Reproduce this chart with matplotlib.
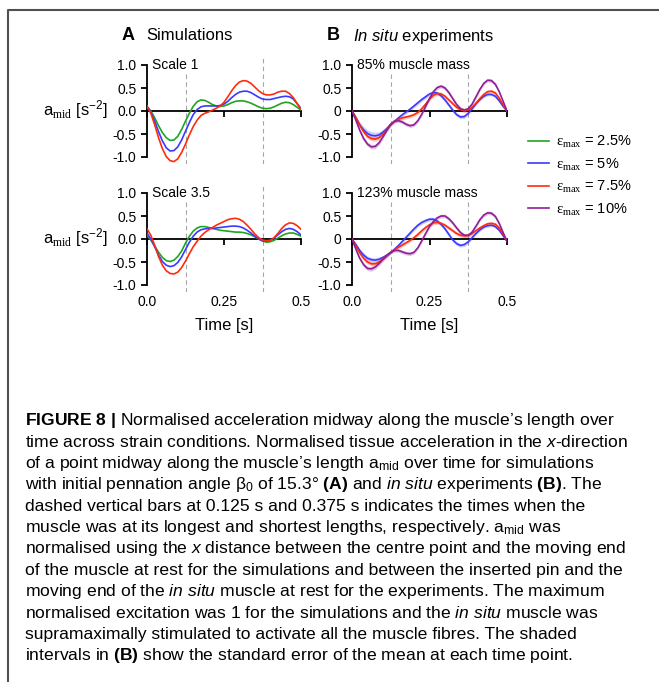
import numpy as np
import matplotlib.pyplot as plt
from matplotlib.lines import Line2D

plt.rcParams['font.family'] = 'Liberation Sans'
plt.rcParams['mathtext.fontset'] = 'custom'
plt.rcParams['mathtext.rm'] = 'Liberation Serif'
plt.rcParams['mathtext.sf'] = 'Liberation Sans'
plt.rcParams['mathtext.it'] = 'Liberation Sans:italic'
plt.rcParams['mathtext.bf'] = 'Liberation Sans:bold'

########## time samples (s) ##########
time = np.arange(41) * 0.0125

########## A: simulations, scale 1 ##########
sim1_e25 = [0.10, 0.00, -0.15, -0.32, -0.47, -0.58, -0.64, -0.63, -0.55, -0.40,
            -0.22, -0.05, 0.10, 0.20, 0.24, 0.23, 0.19, 0.14, 0.11, 0.10,
            0.11, 0.14, 0.18, 0.21, 0.22, 0.22, 0.20, 0.17, 0.13, 0.09,
            0.06, 0.05, 0.06, 0.09, 0.13, 0.17, 0.19, 0.18, 0.14, 0.08, 0.02]
sim1_e5 = [0.10, -0.02, -0.22, -0.45, -0.65, -0.80, -0.87, -0.86, -0.78, -0.63,
           -0.44, -0.25, -0.08, 0.03, 0.09, 0.11, 0.11, 0.11, 0.11, 0.12,
           0.15, 0.21, 0.29, 0.36, 0.41, 0.43, 0.43, 0.40, 0.35, 0.30,
           0.26, 0.25, 0.25, 0.27, 0.29, 0.31, 0.32, 0.31, 0.26, 0.16, 0.05]
sim1_e75 = [0.10, -0.05, -0.30, -0.58, -0.82, -0.99, -1.08, -1.10, -1.04, -0.90,
            -0.72, -0.52, -0.34, -0.20, -0.10, -0.05, -0.02, 0.02, 0.06, 0.11,
            0.19, 0.31, 0.44, 0.55, 0.63, 0.66, 0.65, 0.60, 0.52, 0.44,
            0.38, 0.35, 0.35, 0.37, 0.41, 0.43, 0.43, 0.38, 0.29, 0.16, 0.04]

########## A: simulations, scale 3.5 ##########
sim35_e25 = [0.08, -0.02, -0.15, -0.29, -0.40, -0.47, -0.49, -0.46, -0.38, -0.26,
             -0.09, 0.06, 0.17, 0.24, 0.27, 0.27, 0.25, 0.23, 0.21, 0.19,
             0.18, 0.17, 0.16, 0.15, 0.15, 0.14, 0.12, 0.09, 0.05, 0.00,
             -0.04, -0.07, -0.06, -0.03, 0.02, 0.07, 0.11, 0.13, 0.13, 0.10, 0.06]
sim35_e5 = [0.13, 0.00, -0.17, -0.35, -0.49, -0.57, -0.60, -0.58, -0.51, -0.39,
            -0.23, -0.07, 0.06, 0.15, 0.20, 0.22, 0.23, 0.23, 0.24, 0.25,
            0.26, 0.27, 0.28, 0.28, 0.27, 0.24, 0.19, 0.13, 0.06, 0.00,
            -0.04, -0.05, -0.03, 0.02, 0.09, 0.16, 0.21, 0.23, 0.21, 0.16, 0.09]
sim35_e75 = [0.22, 0.08, -0.14, -0.38, -0.57, -0.69, -0.75, -0.76, -0.72, -0.62,
             -0.48, -0.32, -0.17, -0.05, 0.06, 0.14, 0.20, 0.25, 0.30, 0.34,
             0.38, 0.42, 0.44, 0.45, 0.43, 0.38, 0.30, 0.21, 0.11, 0.03,
             -0.02, -0.04, -0.03, 0.03, 0.12, 0.23, 0.31, 0.35, 0.34, 0.29, 0.21]

########## B: in situ, 85% muscle mass (mean, SEM) ##########
m85_e5 = [0.00, -0.15, -0.30, -0.41, -0.49, -0.53, -0.54, -0.52, -0.46, -0.38,
          -0.29, -0.22, -0.15, -0.08, -0.02, 0.04, 0.11, 0.18, 0.25, 0.31,
          0.37, 0.40, 0.39, 0.33, 0.24, 0.13, 0.02, -0.08, -0.13, -0.12,
          -0.05, 0.05, 0.16, 0.25, 0.32, 0.36, 0.36, 0.32, 0.22, 0.10, 0.00]
m85_e75 = [0.00, -0.14, -0.31, -0.45, -0.55, -0.60, -0.61, -0.58, -0.50, -0.40,
           -0.29, -0.22, -0.18, -0.15, -0.13, -0.11, -0.08, -0.03, 0.05, 0.15,
           0.26, 0.34, 0.38, 0.37, 0.32, 0.24, 0.16, 0.08, 0.03, 0.00,
           0.02, 0.08, 0.17, 0.27, 0.36, 0.42, 0.43, 0.39, 0.28, 0.13, 0.00]
m85_e10 = [0.00, -0.20, -0.42, -0.60, -0.72, -0.78, -0.77, -0.69, -0.56, -0.42,
           -0.29, -0.22, -0.21, -0.24, -0.29, -0.32, -0.30, -0.21, -0.07, 0.10,
           0.27, 0.42, 0.51, 0.54, 0.50, 0.40, 0.27, 0.14, 0.05, 0.02,
           0.05, 0.15, 0.31, 0.47, 0.60, 0.67, 0.66, 0.58, 0.42, 0.21, 0.00]
sem85_e5 = [0.01, 0.04, 0.06, 0.07, 0.08, 0.08, 0.08, 0.07, 0.06, 0.05,
            0.04, 0.04, 0.04, 0.04, 0.04, 0.04, 0.04, 0.04, 0.04, 0.04,
            0.04, 0.04, 0.04, 0.04, 0.04, 0.04, 0.04, 0.04, 0.04, 0.04,
            0.04, 0.03, 0.03, 0.03, 0.03, 0.03, 0.03, 0.03, 0.03, 0.02, 0.01]
sem85_e75 = [0.01, 0.03, 0.04, 0.05, 0.05, 0.05, 0.05, 0.05, 0.04, 0.04,
             0.03, 0.03, 0.04, 0.04, 0.04, 0.04, 0.04, 0.04, 0.04, 0.04,
             0.04, 0.04, 0.04, 0.04, 0.04, 0.04, 0.04, 0.04, 0.04, 0.04,
             0.04, 0.04, 0.04, 0.04, 0.04, 0.04, 0.04, 0.04, 0.03, 0.02, 0.01]
sem85_e10 = [0.01, 0.03, 0.04, 0.05, 0.05, 0.05, 0.05, 0.05, 0.04, 0.04,
             0.03, 0.03, 0.04, 0.04, 0.04, 0.04, 0.04, 0.04, 0.04, 0.04,
             0.04, 0.04, 0.04, 0.04, 0.04, 0.04, 0.04, 0.04, 0.04, 0.04,
             0.04, 0.04, 0.04, 0.04, 0.04, 0.04, 0.04, 0.04, 0.03, 0.02, 0.01]

########## B: in situ, 123% muscle mass (mean, SEM) ##########
m123_e5 = [0.00, -0.12, -0.25, -0.35, -0.42, -0.45, -0.46, -0.44, -0.40, -0.35,
           -0.29, -0.22, -0.14, -0.05, 0.04, 0.13, 0.22, 0.30, 0.36, 0.40,
           0.43, 0.43, 0.39, 0.32, 0.22, 0.10, -0.02, -0.10, -0.14, -0.12,
           -0.06, 0.03, 0.12, 0.20, 0.26, 0.29, 0.30, 0.27, 0.19, 0.07, -0.05]
m123_e75 = [0.00, -0.15, -0.30, -0.42, -0.50, -0.54, -0.54, -0.50, -0.44, -0.36,
            -0.29, -0.23, -0.18, -0.13, -0.08, -0.03, 0.03, 0.10, 0.18, 0.25,
            0.31, 0.35, 0.36, 0.34, 0.30, 0.24, 0.18, 0.12, 0.08, 0.07,
            0.08, 0.12, 0.18, 0.24, 0.29, 0.33, 0.34, 0.32, 0.24, 0.10, -0.05]
m123_e10 = [0.00, -0.22, -0.42, -0.56, -0.64, -0.65, -0.61, -0.53, -0.44, -0.36,
            -0.29, -0.25, -0.25, -0.28, -0.31, -0.32, -0.29, -0.19, -0.04, 0.12,
            0.27, 0.38, 0.46, 0.50, 0.50, 0.44, 0.35, 0.24, 0.14, 0.08,
            0.08, 0.15, 0.28, 0.42, 0.52, 0.57, 0.56, 0.49, 0.34, 0.14, -0.05]
sem123_e5 = [0.01, 0.03, 0.04, 0.05, 0.05, 0.05, 0.05, 0.05, 0.04, 0.04,
             0.03, 0.03, 0.04, 0.04, 0.04, 0.04, 0.04, 0.04, 0.04, 0.04,
             0.04, 0.04, 0.04, 0.04, 0.04, 0.04, 0.04, 0.04, 0.04, 0.04,
             0.04, 0.03, 0.03, 0.03, 0.03, 0.03, 0.03, 0.03, 0.03, 0.02, 0.01]
sem123_e75 = [0.01, 0.03, 0.04, 0.05, 0.05, 0.05, 0.05, 0.05, 0.04, 0.04,
              0.03, 0.03, 0.04, 0.04, 0.04, 0.04, 0.04, 0.04, 0.04, 0.04,
              0.04, 0.04, 0.04, 0.04, 0.04, 0.04, 0.04, 0.04, 0.04, 0.04,
              0.04, 0.04, 0.04, 0.04, 0.04, 0.04, 0.04, 0.04, 0.03, 0.02, 0.01]
sem123_e10 = [0.01, 0.03, 0.04, 0.05, 0.05, 0.05, 0.05, 0.05, 0.04, 0.04,
              0.03, 0.03, 0.04, 0.04, 0.04, 0.04, 0.04, 0.04, 0.04, 0.04,
              0.04, 0.04, 0.04, 0.04, 0.04, 0.04, 0.04, 0.04, 0.04, 0.04,
              0.04, 0.04, 0.04, 0.04, 0.04, 0.04, 0.04, 0.04, 0.03, 0.02, 0.01]

strain_labels = [r'$\mathrm{ε}_{\mathrm{max}}$ = 2.5%', r'$\mathrm{ε}_{\mathrm{max}}$ = 5%',
                 r'$\mathrm{ε}_{\mathrm{max}}$ = 7.5%', r'$\mathrm{ε}_{\mathrm{max}}$ = 10%']
strain_colors = ['#1fa51f', '#3a3aff', '#ff2b0c', '#8e1f98']

yticks = [1.0, 0.5, 0.0, -0.5, -1.0]
ytl_sim = ['1.0', '0.5', '0.0', '-0.5', '-1.0']
ytl_exp = ['1.0', '0.5', '0', '-0.5', '-1.0']
xticks = [0.0, 0.25, 0.5]
xtl = ['0.0', '0.25', '0.5']

caption = [
    r'$\mathbf{FIGURE\ 8\ |}$ Normalised acceleration midway along the muscle’s length over',
    r'time across strain conditions. Normalised tissue acceleration in the $\mathit{x}$-direction',
    r'of a point midway along the muscle’s length a$_{\mathsf{mid}}$ over time for simulations',
    r'with initial pennation angle β$_{\mathsf{0}}$ of 15.3° $\mathbf{(A)}$ and $\mathit{in\ situ}$ experiments $\mathbf{(B)}$. The',
    r'dashed vertical bars at 0.125 s and 0.375 s indicates the times when the',
    r'muscle was at its longest and shortest lengths, respectively. a$_{\mathsf{mid}}$ was',
    r'normalised using the $\mathit{x}$ distance between the centre point and the moving end',
    r'of the muscle at rest for the simulations and between the inserted pin and the',
    r'moving end of the $\mathit{in\ situ}$ muscle at rest for the experiments. The maximum',
    r'normalised excitation was 1 for the simulations and the $\mathit{in\ situ}$ muscle was',
    r'supramaximally stimulated to activate all the muscle fibres. The shaded',
    r'intervals in $\mathbf{(B)}$ show the standard error of the mean at each time point.',
]

W, H = 659, 682
fig = plt.figure(figsize=(W / 100, H / 100), dpi=100)


def px_axes(left, top, width, height):
    return fig.add_axes([left / W, 1 - (top + height) / H, width / W, height / H])


def style(ax, ytl, panel_text, bottom_row):
    ax.set_xlim(0, 0.5)
    ax.set_ylim(-1.15, 1.15)
    for s in ['top', 'right']:
        ax.spines[s].set_visible(False)
    ax.spines['left'].set_bounds(-1, 1)
    ax.spines['bottom'].set_position(('data', 0))
    ax.spines['left'].set_linewidth(1.3)
    ax.spines['bottom'].set_linewidth(1.3)
    ax.set_yticks(yticks)
    ax.set_yticklabels(ytl)
    ax.set_xticks(xticks)
    ax.tick_params(axis='x', labelbottom=False, direction='out', length=4, width=1.3)
    ax.tick_params(axis='y', length=4, width=1.3, pad=3.5, labelsize=10)
    ax.axvline(0.125, color='#a5a5a5', ls=(0, (4, 3)), lw=0.8, zorder=0)
    ax.axvline(0.375, color='#a5a5a5', ls=(0, (4, 3)), lw=0.8, zorder=0)
    ax.text(0.016, 1.0, panel_text, fontsize=10, va='center', ha='left',
            bbox=dict(fc='white', ec='none', pad=0.5), zorder=1)
    if bottom_row:
        sec = ax.secondary_xaxis('bottom')
        sec.set_xticks(xticks, xtl)
        sec.tick_params(length=0, pad=2, labelsize=10)
        sec.spines['bottom'].set_visible(False)
        sec.set_xlabel('Time [s]', fontsize=12, labelpad=7)


axA1 = px_axes(147, 58.1, 154, 105.8)
axA2 = px_axes(147, 186.1, 154, 105.8)
axB1 = px_axes(352, 58.1, 155, 105.8)
axB2 = px_axes(352, 186.1, 155, 105.8)

handles = []
for ax, series in [(axA1, [sim1_e25, sim1_e5, sim1_e75]), (axA2, [sim35_e25, sim35_e5, sim35_e75])]:
    for k, ys in enumerate(series):
        ln, = ax.plot(time, ys, color=strain_colors[k], lw=1.2, zorder=3)
        if ax is axA1:
            handles.append(ln)

for ax, means, sems in [(axB1, [m85_e5, m85_e75, m85_e10], [sem85_e5, sem85_e75, sem85_e10]),
                        (axB2, [m123_e5, m123_e75, m123_e10], [sem123_e5, sem123_e75, sem123_e10])]:
    for k, (ys, se) in enumerate(zip(means, sems)):
        c = strain_colors[k + 1]
        ys = np.array(ys)
        se = np.array(se)
        ax.fill_between(time, ys - se, ys + se, color=c, alpha=0.25, lw=0, zorder=2)
        ln, = ax.plot(time, ys, color=c, lw=1.2, zorder=3)
        if ax is axB1 and k == 2:
            handles.append(ln)

style(axA1, ytl_sim, 'Scale 1', False)
style(axA2, ytl_sim, 'Scale 3.5', True)
style(axB1, ytl_exp, '85% muscle mass', False)
style(axB2, ytl_exp, '123% muscle mass', True)

# column headings
fig.text(122 / W, 1 - 36 / H, 'A', fontsize=13, weight='bold', va='center')
fig.text(146 / W, 1 - 36 / H, 'Simulations', fontsize=12, va='center')
fig.text(327 / W, 1 - 36 / H, 'B', fontsize=13, weight='bold', va='center')
fig.text(353 / W, 1 - 36 / H, r'$\mathit{In\ situ}$ experiments', fontsize=12, va='center')

# y labels
for yc in [110, 238]:
    fig.text(43 / W, 1 - yc / H, r'a$_{\mathrm{mid}}$ [s$^{\mathsf{-2}}$]', fontsize=12, va='center')

fig.legend(handles, strain_labels, loc='upper left', bbox_to_anchor=(528 / W, 1 - 134 / H),
           frameon=False, fontsize=10.5, handlelength=1.45, handletextpad=0.5,
           labelspacing=0.42, borderpad=0, borderaxespad=0)

# caption
for i, line in enumerate(caption):
    fig.text(25 / W, 1 - (421 + i * 21.3) / H, line, fontsize=12.6, va='center')

# frame
fig.add_artist(Line2D([8 / W, 8 / W, 1.0], [0, 1 - 10 / H, 1 - 10 / H],
                      color='#505050', lw=1.5))

fig.savefig('out.png', dpi=100)
